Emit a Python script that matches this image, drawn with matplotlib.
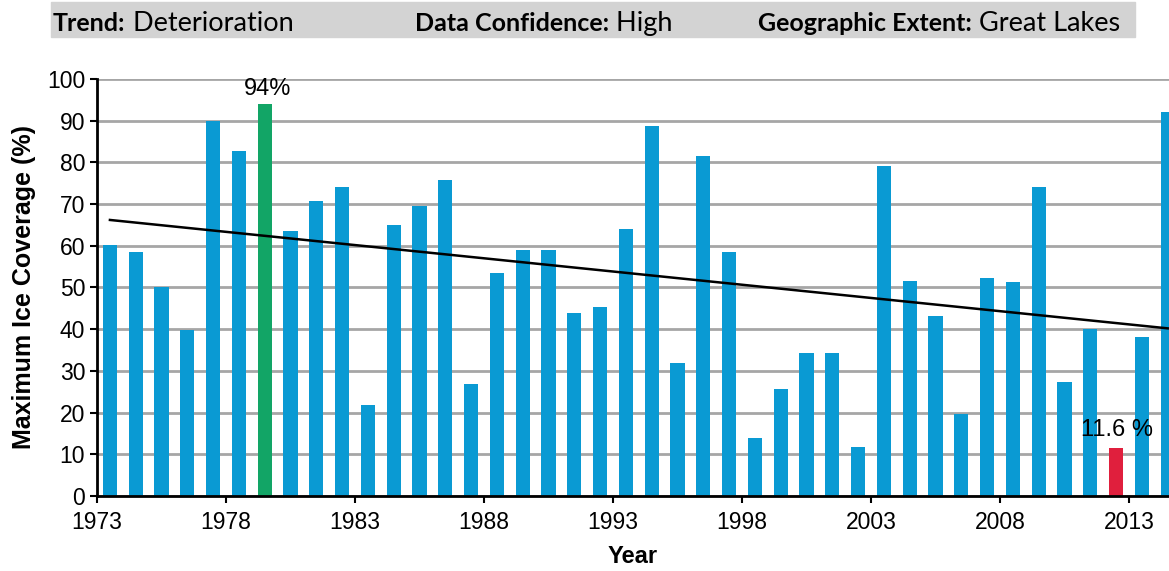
import numpy as np
import matplotlib
matplotlib.use("Agg")
import matplotlib.pyplot as plt
from matplotlib.patches import Rectangle

# Great Lakes maximum ice coverage, 1973-2014
years = list(range(1973, 2015))
coverage = [60.2, 58.4, 50.0, 39.8, 90.0, 82.7, 94.0, 63.5, 70.7, 74.2,
            21.8, 65.1, 69.6, 75.9, 26.9, 53.4, 59.0, 59.0, 43.8, 45.4,
            64.0, 88.8, 32.0, 81.5, 58.4, 14.0, 25.7, 34.2, 34.2, 11.7,
            79.2, 51.6, 43.2, 19.6, 52.2, 51.2, 74.2, 27.4, 40.0, 11.6,
            38.2, 92.2]
max_year = 1979
min_year = 2012
trend_years = [1973, 2014]
trend_vals = [66.2, 40.2]
tick_years = list(range(1973, 2014, 5))

header = [("Trend:", " Deterioration"),
          ("Data Confidence:", " High"),
          ("Geographic Extent:", " Great Lakes")]

plt.rcParams['font.family'] = ['Liberation Sans', 'DejaVu Sans']

fig = plt.figure(figsize=(11.69, 5.71), dpi=100)
ax = fig.add_axes([0.083, 0.1314, 0.917, 0.7302])

x = np.arange(len(years))
colors = []
for y in years:
    if y == max_year:
        colors.append('#12a566')
    elif y == min_year:
        colors.append('#e01f3d')
    else:
        colors.append('#0a9ad3')
ax.bar(x, coverage, width=0.55, color=colors, zorder=2)

tx = [years.index(y) for y in trend_years]
ax.plot(tx, trend_vals, color='black', lw=1.8, zorder=3)

# labels for the extremes
i_max = years.index(max_year)
i_min = years.index(min_year)
ax.text(i_max + 0.1, coverage[i_max] + 2.2, "%d%%" % round(coverage[i_max]),
        ha='center', va='baseline', fontsize=17)
ax.text(i_min + 0.05, coverage[i_min] + 2.8, "%.1f %%" % coverage[i_min],
        ha='center', va='baseline', fontsize=17)

ax.set_xlim(-0.5, 41.05)
ax.set_ylim(0, 100)
ax.set_yticks(range(0, 101, 10))
ax.set_xticks([years.index(y) - 0.5 for y in tick_years])
ax.set_xticklabels([str(y) for y in tick_years])
ax.tick_params(axis='both', labelsize=16.5, direction='out', length=5, width=1.5)
ax.tick_params(axis='x', pad=6)
ax.grid(axis='y', color='#a6a6a6', lw=2, zorder=0)
for s in ['top', 'right']:
    ax.spines[s].set_visible(False)
for s in ['left', 'bottom']:
    ax.spines[s].set_linewidth(2)
    ax.spines[s].set_zorder(4)

ax.set_ylabel("Maximum Ice Coverage (%)", fontsize=18, fontweight='bold', labelpad=8)
ax.set_xlabel("Year", fontsize=17, fontweight='bold', labelpad=8)

# header band
fig.patches.append(Rectangle((51 / 1169, 1 - 37 / 571), (1135 - 51) / 1169, 35 / 571,
                             transform=fig.transFigure, color='#d3d3d3', zorder=0))
starts = [53, 415, 758]
hfont = ['Lato', 'DejaVu Sans']
fig.canvas.draw()
renderer = fig.canvas.get_renderer()
for (b, n), sx in zip(header, starts):
    t = fig.text(sx / 1169, 1 - 31 / 571, b, fontsize=18, fontweight='bold',
                 family=hfont, va='baseline')
    bb = t.get_window_extent(renderer)
    fig.text(bb.x1 / fig.bbox.width, 1 - 31 / 571, n, fontsize=19.5,
             family=hfont, va='baseline')

fig.savefig("out.png", dpi=100)
